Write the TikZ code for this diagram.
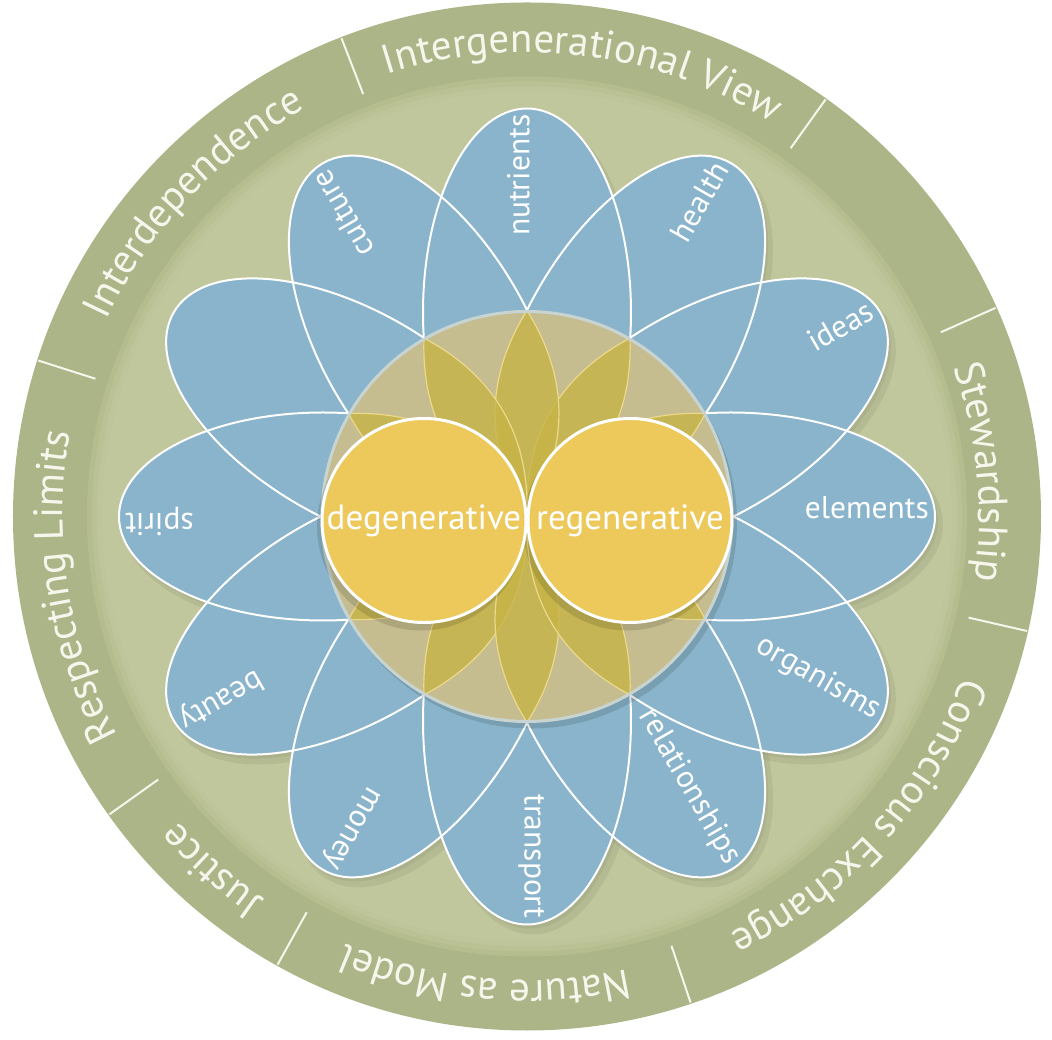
\documentclass[tikz,border=0pt]{standalone}
\usepackage{fontspec}
\setmainfont{PT Sans}
\usetikzlibrary{decorations.text}
\definecolor{band}{HTML}{ABB587}
\definecolor{bandshade}{HTML}{B5BD8E}
\definecolor{disk}{HTML}{C0C79D}
\definecolor{petal}{HTML}{89B4CB}
\definecolor{tanfill}{HTML}{C5BD8F}
\definecolor{lens}{HTML}{C7B446}
\definecolor{lensline}{HTML}{EBD98C}
\definecolor{sun}{HTML}{ECC95A}
\definecolor{tanrim}{HTML}{C8D4D2}
\definecolor{ringtxt}{HTML}{F6F6EC}
\newcommand\ringfont{\fontsize{41}{41}\selectfont}
\newcommand\petalfont{\fontsize{31.5}{31.5}\selectfont}
\newcommand\sunfont{\fontsize{35}{35}\selectfont}
\tikzset{
  ringtext/.style={decorate, decoration={text along path, text align=center,
      text color=ringtxt, text={|\ringfont|#1}}},
  separator/.style={draw=ringtxt, line width=2pt},
  petalshape/.style={fill=petal},
  petalline/.style={draw=white, line width=2pt},
  petallabel/.style={text=white, font=\petalfont, inner sep=0pt, anchor=mid east},
  suncircle/.style={circle, fill=sun, draw=white, line width=3pt, minimum size=204pt,
      inner sep=0pt, text=white, font=\sunfont},
  lensshape/.style={fill=lens, fill opacity=0.8, draw=lensline, line width=1.2pt},
}
\begin{document}
\begin{tikzpicture}
\useasboundingbox (-527pt,-523.5pt) rectangle (525pt,516.5pt);
% outer band and inner disk
\fill[band] (0,0) circle[radius=514pt];
\fill[bandshade] (0,0) circle[radius=440pt];
\fill[disk!50!bandshade] (0,0) circle[radius=435pt];
\fill[disk!80!bandshade] (0,0) circle[radius=430pt];
\fill[disk] (0,0) circle[radius=425pt];
% separators
\foreach \a in {111.2,54.4,24,-12.9,-71.4,-119.1,-144.5,162.3}
  \draw[separator] (\a:453pt) -- (\a:513pt);
% ring texts
\path[ringtext={Intergenerational View}] (111.2:464pt) arc[start angle=111.2, end angle=54.4, radius=464pt];
\path[ringtext={Stewardship}] (24:452pt) arc[start angle=24, end angle=-12.9, radius=452pt];
\path[ringtext={Conscious Exchange}] (-12.9:464pt) arc[start angle=-12.9, end angle=-71.4, radius=464pt];
\path[ringtext={Nature as Model}] (-71.4:464pt) arc[start angle=-71.4, end angle=-119.1, radius=464pt];
\path[ringtext={Justice}] (-119.1:464pt) arc[start angle=-119.1, end angle=-144.5, radius=464pt];
\path[ringtext={Respecting Limits}] (215.5:464pt) arc[start angle=215.5, end angle=162.3, radius=464pt];
\path[ringtext={Interdependence}] (162.3:464pt) arc[start angle=162.3, end angle=111.2, radius=464pt];
% petal shadows
\foreach \a in {0,30,...,330}
  \fill[black, opacity=0.06, shift={(6pt,-8pt)}, rotate=\a] (204pt,0) ellipse[x radius=206pt, y radius=106pt];
\foreach \a in {0,30,...,330}
  \fill[black, opacity=0.05, shift={(3pt,-4pt)}, rotate=\a] (204pt,0) ellipse[x radius=204pt, y radius=104pt];
% petals
\foreach \a in {0,30,...,330}
  \fill[petalshape, rotate=\a] (204pt,0) ellipse[x radius=204pt, y radius=104pt];
\foreach \a in {0,30,...,330}
  \draw[petalline, rotate=\a] (204pt,0) ellipse[x radius=204pt, y radius=104pt];
% petal labels
\foreach \a/\t/\n in {0/elements/pel, 30/ideas/pid, 60/health/phe, 90/nutrients/pnu,
    120/culture/pcu, 180/spirit/psp, 210/beauty/pbe, 240/money/pmo,
    270/transport/ptr, 300/relationships/pre, 330/organisms/por}
  \node[petallabel, rotate=\a] (\n) at (\a:402pt) {\t};
% central disk
\fill[black, opacity=0.12] (4pt,-6pt) circle[radius=206pt];
\fill[tanfill] (0,0) circle[radius=205pt];
\begin{scope}
  \clip (0,0) circle[radius=204pt];
  \foreach \a in {0,30,...,330}
    \path[lensshape] (0,0) to[bend left=32] (\a:206pt) to[bend left=32] (0,0) -- cycle;
\end{scope}
\draw[tanrim, line width=3pt] (0,0) circle[radius=205pt];
% yellow circles
\fill[black, opacity=0.12] (-106pt,-10pt) circle[radius=104pt];
\fill[black, opacity=0.12] (100pt,-10pt) circle[radius=104pt];
\node[suncircle] (deg) at (-103pt,-4pt) {degenerative};
\node[suncircle] (reg) at (103pt,-4pt) {regenerative};
\end{tikzpicture}
\end{document}
